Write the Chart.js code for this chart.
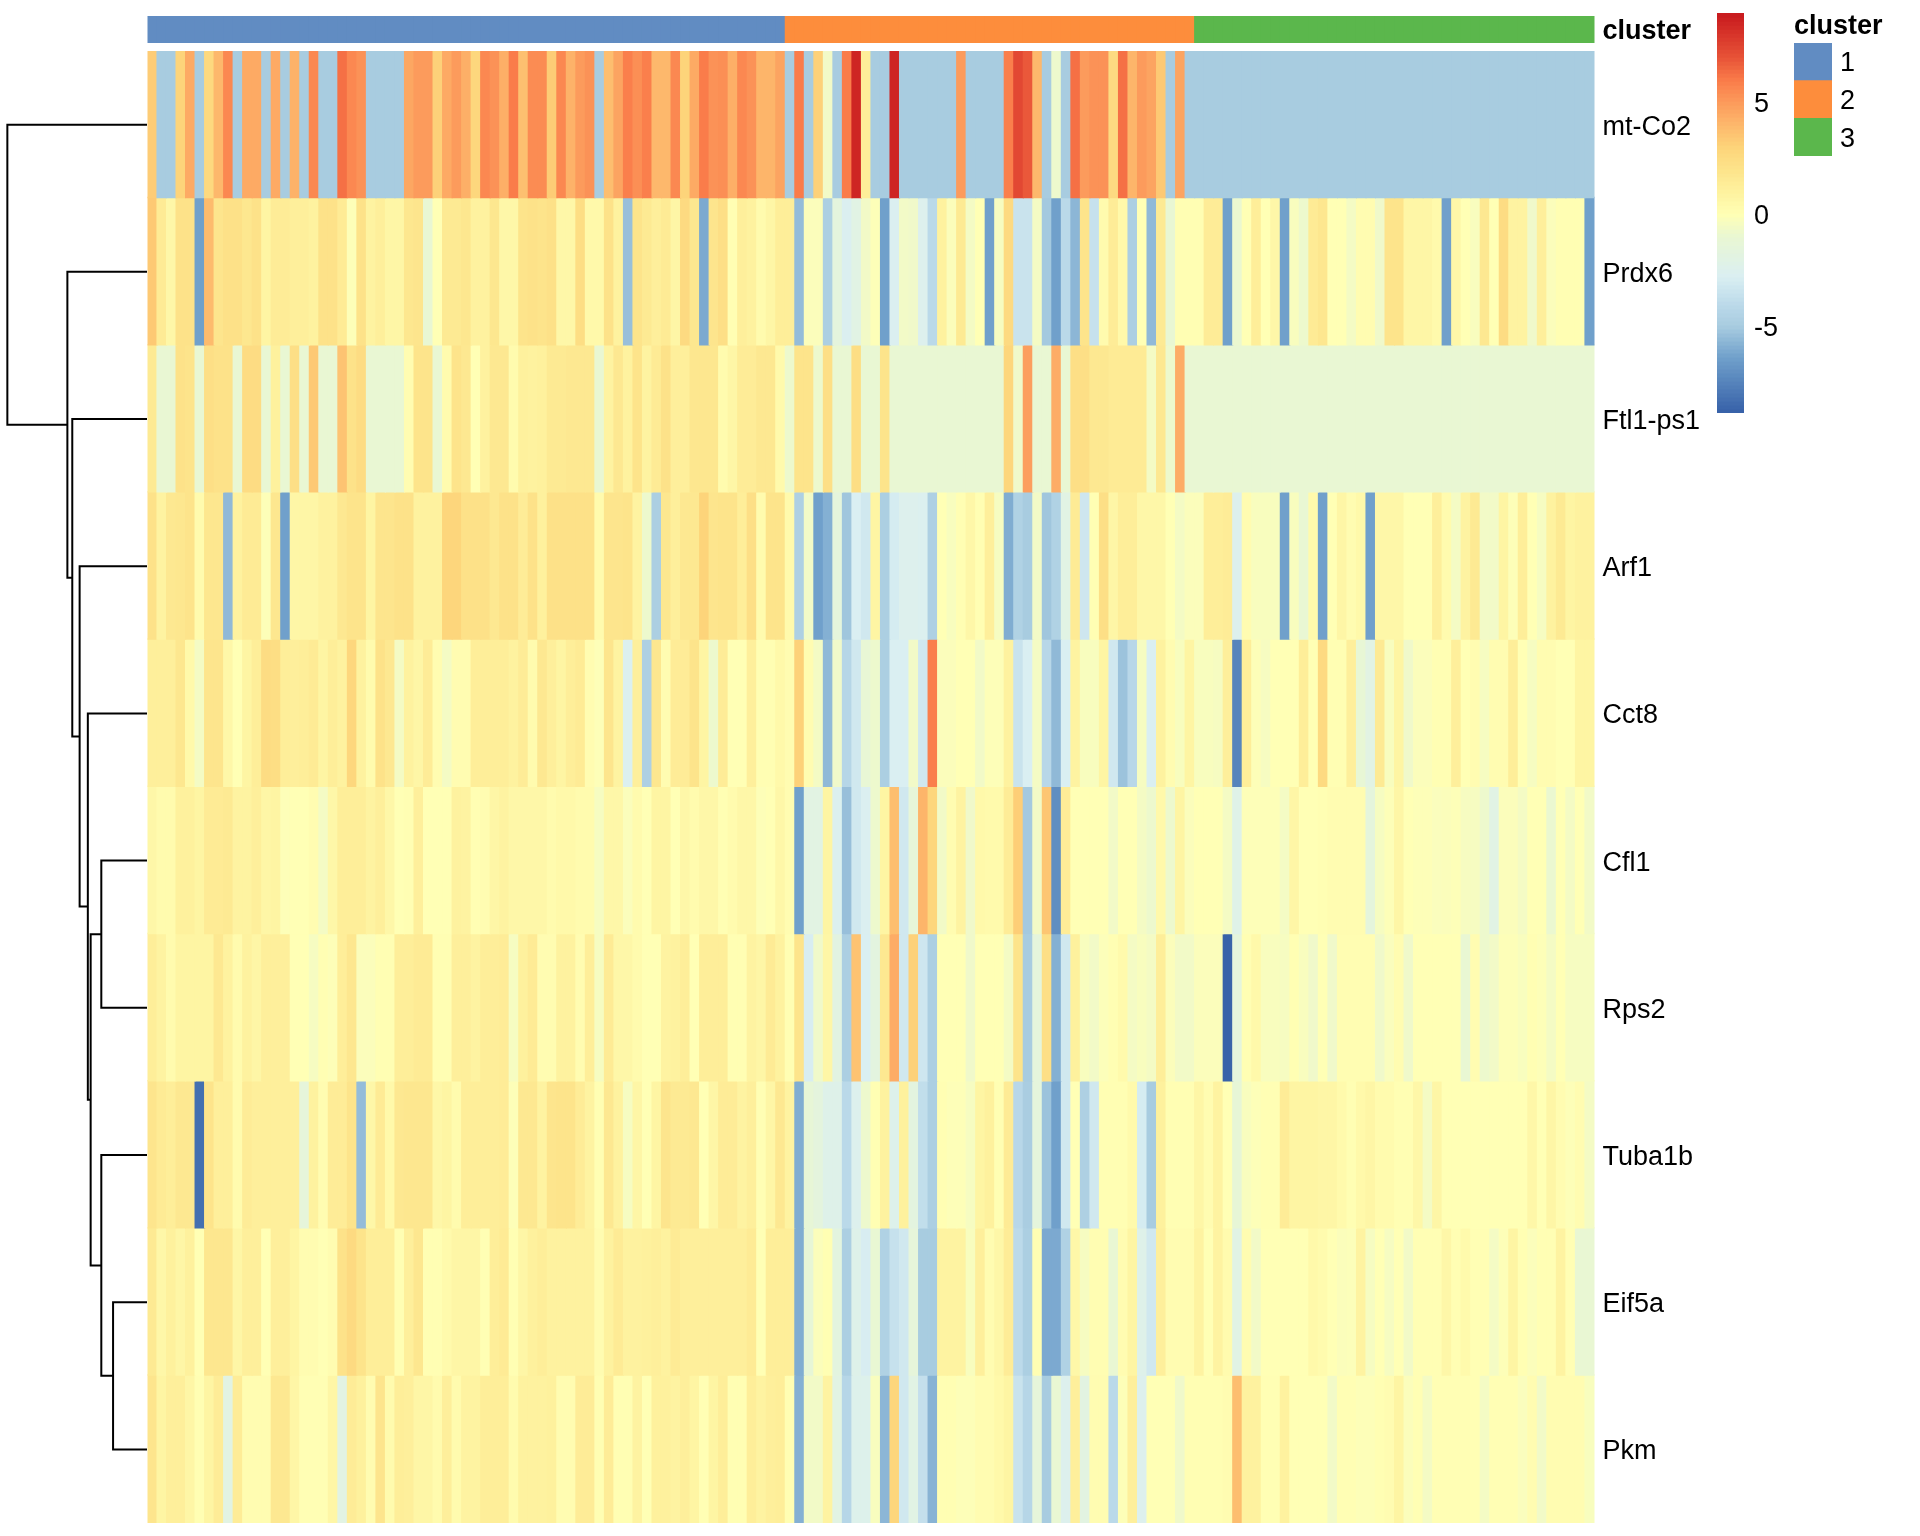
<!DOCTYPE html>
<html>
<head>
<meta charset="utf-8">
<title>cluster heatmap</title>
<script src="https://cdn.jsdelivr.net/npm/chart.js@4"></script>
<style>
    html, body { margin: 0; padding: 0; background: #fff; }
    #page { position: relative; width: 1920px; height: 1536px; overflow: hidden; }
    #page div { position: absolute; }
</style>
</head>
<body>
<div id="page">
    <div style="left:0;top:0;width:1920px;height:1536px"><canvas id="heatChart"></canvas></div>
    <div style="left:0;top:16px;width:147px;height:1507px"><canvas id="dendroChart"></canvas></div>
    <div style="left:1717px;top:13px;width:110px;height:400px"><canvas id="scaleChart"></canvas></div>
    <div style="left:1794px;top:0;width:126px;height:170px"><canvas id="clusterChart"></canvas></div>
</div>
<script>
// Data
const genes = ['mt-Co2', 'Prdx6', 'Ftl1-ps1', 'Arf1', 'Cct8', 'Cfl1', 'Rps2', 'Tuba1b', 'Eif5a', 'Pkm'];
const clusterNames = ['1', '2', '3'];
const clusterSizes = [67, 43, 42];
const clusterColors = ['#618CC2', '#FD8D3C', '#5BB74C'];
const scaleTicks = [5, 0, -5];

const mtCo2 = [
    3.3,-5,-5,3,4.5,-5,2.7,4,5.6,-5,
    4.5,4.5,-5,4.5,-5,4.2,-5,5.6,-5,-5,
    6.3,5.6,5.3,-5,-5,-5,-5,4.6,5,5,
    3.1,4.5,5,4.3,2.8,5.6,5.3,4.3,6,3.7,
    5.5,5.5,3.3,5.6,4.2,5,5.3,-5,3.8,4.7,
    5.9,5.4,5.9,4,4,5.6,3,4.5,6,5.3,
    5.4,4.3,5.6,5.3,4.1,4.1,4.7,-5,6,-5,
    3.1,-0.6,-5,6,8.6,1.3,-5,-5,8.6,-5,
    -5,-5,-5,-5,-5,5,-5,-5,-5,-5,
    5.9,7.4,6.9,4,-5,-0.8,-5,6.3,5,5.3,
    5.3,2.6,6.3,4.1,5,4.7,3.4,-5,4.7,-5,
    -5,-5,-5,-5,-5,-5,-5,-5,-5,-5,
    -5,-5,-5,-5,-5,-5,-5,-5,-5,-5,
    -5,-5,-5,-5,-5,-5,-5,-5,-5,-5,
    -5,-5,-5,-5,-5,-5,-5,-5,-5,-5,
    -5,-5
];
const prdx6 = [
    3.4,1.5,0.6,2.1,2.1,-6.4,3.9,1.9,2.2,2.2,
    1.8,2.1,0.8,1.4,1.4,1.2,1.2,1,2.1,2.1,
    1.5,-0.1,2.1,0.9,1.2,0.7,0.7,1.8,1.9,-1,
    0,1.6,1.6,1.8,1,1,1.8,0.6,0.6,2,
    2.1,2,2.2,0.6,0.6,2.4,0.5,0.5,2.1,1,
    -5.4,2,1.6,1.2,1.5,0.7,2.6,1.8,-6.1,1.9,
    2.3,0.1,1.2,1,0.3,0.7,1.3,1.3,-5.5,-0.2,
    -0.2,-4.8,-1.6,-2.7,-2,-0.6,-0.1,-6.4,-2.7,-0.6,
    -0.7,-2.5,-4.1,1,-0.2,1.6,-0.5,0,-6.4,-0.4,
    2.6,-3.5,-3.5,-0.5,-5.1,-6.4,-4.1,-5.7,2,-3.6,
    0.3,1.4,0.5,-4.8,0,-5.6,1.6,-1,0.1,0.1,
    0.1,1.4,1.4,-6.4,-0.9,0,1.3,0,0.6,-6.4,
    -0.3,-0.8,1.5,1.8,0,0,-0.5,0.2,0.2,-0.7,
    2,2,0.7,0.7,0.7,0.4,-6.4,0.6,0,-0.3,
    1.7,0,2.5,0.9,0.9,-0.7,1.2,-0.2,0.1,0.1,
    0.1,-6.4
];
const ftl1 = [
    1.6,-1,-1,2.1,2,-1,2.3,2.1,2.1,-1,
    2.5,2.5,-1,1.1,-1,2.3,-1,3.4,-1,-1,
    3.6,2.1,2.5,-1,-1,-1,-1,0.2,2,2,
    -1,0.3,2,1.7,0,1,1.7,1.7,0.3,1.1,
    1,1.1,1.6,1.6,1.7,1.7,1.7,-1,0.9,1.7,
    1,2,0.9,1.5,2.1,1.2,1.2,1.8,1.8,1.8,
    0.3,0.7,1.4,1.4,1.7,1.7,0.4,-0.8,2,2,
    -0.8,2.3,-1,-1,2.4,-1,-1,2,-1,-1,
    -1,-1,-1,-1,-1,-1,-1,-1,-1,-1,
    2.9,-0.7,4.9,-1,-1,4.4,-1,2.3,2.3,1.7,
    1.7,1.5,1.5,1.5,1.5,-0.5,1.7,-0.8,4.4,-1,
    -1,-1,-1,-1,-1,-1,-1,-1,-1,-1,
    -1,-1,-1,-1,-1,-1,-1,-1,-1,-1,
    -1,-1,-1,-1,-1,-1,-1,-1,-1,-1,
    -1,-1,-1,-1,-1,-1,-1,-1,-1,-1,
    -1,-1
];
const arf1 = [
    2.1,0.9,1.7,1.8,2,0.3,1.8,1.8,-5.6,1,
    1.5,1.5,-0.1,1.8,-6.4,0.7,0.7,0.7,1,1,
    1.7,2,2,0.8,1.9,1.9,2.1,2.1,1,1,
    1,2.9,2.9,2.2,2.2,2.2,1.7,2.1,2.1,1.4,
    2.1,1.1,2.2,2.2,2.2,2.2,2.2,0.3,1.9,1.9,
    2,0.9,-0.8,-4.8,1.8,1.2,1.7,1.7,3,1.9,
    2,2,1.3,2.3,0.3,2,2,0.4,-4.7,-0.6,
    -6.4,-5.9,-1.5,-5.2,-2.8,-3.2,0.8,-4.8,-3,-2.5,
    -2.5,-2.6,-4.7,0,-0.3,0.1,0.6,0.1,1.2,-0.4,
    -6,-4.6,-5,-0.6,-5.2,-4.6,-2,1.5,-3.3,0.1,
    2.3,0.7,1.3,1.3,0.6,0.6,0.6,0,-0.5,-0.2,
    -0.2,1.3,1.3,1.4,-2.5,0.2,-0.3,-0.3,-0.3,-6.4,
    -0.3,-1,0.4,-6.4,0,0.7,0.2,0.5,-6.4,0.6,
    0.6,0.6,0,0,0,1.2,0.3,-0.5,0.9,1.6,
    -0.6,-0.6,0.8,-0.1,1.3,0,-0.4,1,1.6,0.8,
    1,1
];
const cct8 = [
    1.2,1.2,1.2,1.8,0.5,-0.5,1.9,1.9,0.6,0,
    0.8,1.3,2.5,2.4,1.3,1.2,1.3,1.5,0.8,1.3,
    1,2.8,1,0.3,2.1,1.7,-0.5,1,0.7,1.4,
    0.2,-0.5,0.2,0.2,1.3,1.3,1.3,1.3,1,1.4,
    0.3,1.7,1.2,0.8,1.3,1.5,0.2,-0.1,1.9,0.9,
    -2.6,1.2,-4.7,1.8,0.2,1.4,1.4,2,0.8,-0.8,
    1.4,0,0,1.2,0.1,0.1,0.5,0.2,3.1,0.2,
    -0.5,-5.6,-0.7,-4.3,-3.2,-1.1,-0.8,-4.8,-2.8,-2.8,
    -0.6,-3.2,5.9,-0.2,-0.2,0,0,-0.6,-0.1,-0.1,
    1,-3.5,-2.8,-0.5,-4.2,-5.6,-2.8,0.9,-0.3,-0.3,
    0.8,-3.2,-5.3,-4.2,-0.4,-2.8,1,0.2,-0.3,0.8,
    -0.3,-0.3,-0.4,1.2,-7.5,1.3,-0.1,-0.4,0,0,
    0,1.3,0,2.6,0.1,0.1,1.2,-1.1,-1.9,1.6,
    -0.3,0.8,-0.7,-0.2,-0.2,0.1,0.1,1.2,0,0.2,
    -0.4,0.2,0.2,1.3,0,-0.4,0.2,0.2,0,0,
    0.8,0.8
];
const cfl1 = [
    0.6,0.3,0.3,1.1,1.1,0.8,1.5,1.5,1.6,0.9,
    0.9,1.2,0.7,0.8,-0.1,0,0,0.2,-0.5,0.6,
    1.3,1.3,1.3,0.9,1.2,0.6,0,0.1,1.2,0,
    0,0,1,0.9,0.1,0.2,0.7,0.9,0.6,0.6,
    0.6,0.6,0.3,0.5,0.5,0.3,0.3,-0.4,0.6,0.6,
    -0.2,0.3,0,0.8,0.8,0,0.6,0.3,0.6,0.6,
    0.1,0.3,0.6,0.6,-0.1,0,0.6,0.2,-6.4,-1.9,
    -1.9,0.8,-2.6,-5.4,-3.2,-2.7,-0.8,0.8,3.8,-3.2,
    -1.3,4.1,2.9,-0.6,0.2,0.9,-0.7,0.5,0.4,0.4,
    1.4,3.2,-5.1,-0.6,3.5,-7.1,1.4,0,0,0,
    0,-0.6,0,0,-0.5,-0.8,0.5,-0.8,0.8,-0.2,
    0,0,0,-0.5,-2.2,-0.1,-0.1,-0.1,-0.1,-0.5,
    0.7,0,0,0.1,0.2,0.2,0.2,0.2,-1.5,-0.4,
    -0.1,0.7,0,-0.1,-0.1,-0.25,-0.2,-0.1,-0.4,-0.4,
    -0.8,-2,-0.2,-0.2,-0.5,0,0,-0.9,0,-0.5,
    0,-0.6
];
const rps2 = [
    1.3,0.9,0.3,0.8,0.8,0.8,0.8,1.7,1,0.3,
    1,0.7,1.2,1.2,1.2,0,0,-0.4,0.1,-0.1,
    1.3,1.8,-0.2,-0.2,0.1,0.1,1.3,1.3,1.5,1.5,
    0.1,0.1,1.2,1.2,0.9,1.3,1.3,1.4,-0.4,1.1,
    1.5,0.2,0.2,1,1,0.2,1.3,-0.4,1.5,0.6,
    0.6,0.3,0,0,0.9,1,1.3,0,1.3,1.3,
    1.3,0.1,0.1,0.9,0.7,1.5,1,0.1,2,-2.9,
    -0.7,0.7,-1.8,-4.8,3.6,-2.8,-1.7,1.7,4.4,-3.2,
    3.1,-3.3,-4.8,0,0,0,-0.7,0,0,0,
    -0.5,2,-5,-1.5,2.3,-5.9,-3.2,1.1,-0.3,-0.6,
    -0.15,0.1,0.4,-0.5,-0.3,-0.5,1.3,-0.2,-0.6,-0.6,
    -0.2,-0.2,-0.2,-8.8,-1.5,0.1,0.5,-0.3,-0.3,-0.4,
    0.1,-0.3,-0.7,0,-0.7,0.15,0.15,0.15,0.15,-0.7,
    -0.25,0.2,-0.7,0,0,0,0,0,-1,0.2,
    -0.8,-0.6,-0.1,-0.1,-0.3,0.1,-0.1,-0.5,0,-0.4,
    -0.4,-0.4
];
const tuba1b = [
    1.9,1.5,1.3,1.7,1.7,-8.3,2,1.2,1.2,0.3,
    1.4,1.2,1.2,1.2,1.2,1.2,-1.4,1,0.2,1.4,
    1.4,2,-5.5,0.6,1.5,0.5,1.7,1.8,1.8,1.8,
    0.6,0.8,0.3,1.3,1.3,1.3,1.3,1.4,-0.1,1.7,
    1.7,0.9,1.9,2,2,1.4,0.9,0.1,1.7,1,
    -0.4,0.7,0,0.8,1.9,1.6,1.6,1.7,0,0.7,
    1.4,1.4,0.9,1.2,0.05,0.7,1.7,0.9,-6,-1.2,
    -1.6,-2.3,-2.3,-4.1,-2.5,-0.8,0.1,1,-2.4,1.1,
    -1.7,-3.8,-4.8,0.1,-0.1,-0.1,-0.4,0.8,1.1,0.1,
    1.5,-4.2,-4.9,-1.5,-5.3,-6.4,-3.2,0,-4.7,-3.2,
    0.1,0.1,0.1,0.4,-3,-5,1.1,0.1,0.1,0.1,
    0.7,0.2,0.9,0,-1.2,-0.3,-0.1,0.05,0.05,1.4,
    0.8,0.8,0.8,0.7,0.7,0.4,0.1,0.5,0.7,0.3,
    0.3,0.1,0.1,0.6,-0.5,0.7,0,0,0,0,
    0,0,0,0,0,0.6,0,0.7,0.2,-0.1,
    0.2,-0.5
];
const eif5a = [
    1.6,0.6,1.1,0.7,1.1,0,1.8,1.8,1.8,0.7,
    1.2,1.2,0,1.2,1.2,0.8,0.2,0.2,0,0.2,
    2.1,2.6,2,1.3,1.3,1.3,0.1,1.2,1.8,0.1,
    0.1,0.4,0.7,0.7,0.7,0.05,1.3,1.5,0.1,0.7,
    1.1,1.3,1,1,1,1,1,0.2,1,1.5,
    1,1,1.1,1.2,1,1.5,1.2,1.2,1.2,1.2,
    1.2,1.2,1.2,1.5,0,1.3,1.3,1.3,-6,-1.2,
    -0.2,0.1,-1.7,-4.8,-2.3,-2.9,-1,-4.6,-3.6,-3.2,
    -1.4,-5,-5,0.9,0.9,0.9,-0.3,1.2,0.2,0.6,
    1.4,-4,-4.8,0.1,-6.1,-6.1,-4.6,0.6,-0.4,0.15,
    0.15,-1,0.2,0.8,-2.3,-3.2,1.2,0.2,0.2,0.2,
    0.9,0,0.9,0.3,-2,0.2,-0.6,0,0,0,
    0,0,0.5,0.3,0,-0.2,-0.15,0.9,-0.4,0,
    -0.4,0,-0.6,0.05,0.05,0.05,0.6,0.1,0.4,0.05,
    0.05,-0.5,-0.1,0.8,0.1,-0.2,0.05,0.05,0.9,0.05,
    -1,-1
];
const pkm = [
    1.9,0.8,1.2,1.2,0.7,0.1,0.8,1.4,-1.9,1.4,
    0.2,0.2,0.2,1.7,1.7,0.7,0.05,0.05,0.05,0.7,
    -1.9,1.4,1.1,0.2,1.9,0.3,1.3,1.2,0.7,0.7,
    0.3,1.2,0.3,0.9,0.9,1.3,1.3,1.3,0.3,1,
    1,1,1.1,0.2,0.2,1.4,1.4,0.1,1.4,0.1,
    0.1,0.9,0,1.1,1.1,0.9,1.2,0.8,0.05,0.8,
    1.3,0.1,0.1,1.3,0.9,1.2,1.3,0.1,-5.9,-0.6,
    -0.6,0.9,-1.9,-4.3,-2.4,-2.4,-0.3,-5.7,2.9,-3.2,
    -2,-3.7,-5.8,0.1,0.1,-0.1,-0.1,0.2,0.2,0.5,
    0.8,-3.5,-4.3,-1.4,-5,-1,-2.5,1.2,-1.8,0.2,
    0.2,-4.1,-0.1,1.2,-2.5,0,0,0,-0.7,0.1,
    0.1,0.1,0.1,0.2,3.8,1,1,0.05,0.05,1,
    0,0,0,0,-0.6,0.05,0.05,-0.1,-0.1,0.1,
    0.2,0.8,-0.2,0.05,-0.5,0.05,0.05,0.05,0.05,0.05,
    -0.5,0.05,0.05,0.05,-0.25,0.2,-0.6,0.2,0.2,0.2,
    0.2,-0.3
];
const rows = [mtCo2, prdx6, ftl1, arf1, cct8, cfl1, rps2, tuba1b, eif5a, pkm];

// Row dendrogram: ids 0-9 are the rows, 10 and up are the merges in order
const mergeLeft = [8, 5, 7, 11, 4, 3, 2, 1, 0];
const mergeRight = [9, 6, 10, 12, 13, 14, 15, 16, 17];
const mergeHeight = [27.7, 37.3, 37.3, 46, 48.3, 55, 61, 65, 114];

// Colour scale
const scaleMin = -8.9;
const scaleMax = 9;
const stopValues = [-8.9, -6.4, -5, -4, -2.8, -1, 0, 1, 2, 3, 4, 5, 6, 7, 9];
const stopColors = ['#3660A8', '#70A0CB', '#A8CCE0', '#BCDAEA', '#DAEFF2', '#E9F7D3', '#FFFFB5', '#FEF29F',
    '#FDE48B', '#FDD47A', '#FDB86C', '#FC9B5C', '#FA7C4A', '#E85438', '#C8191E'];

function valueColor(v) {
    let i = 0;
    while (i < stopValues.length - 2 && v > stopValues[i + 1]) i++;
    const t = Math.min(1, Math.max(0, (v - stopValues[i]) / (stopValues[i + 1] - stopValues[i])));
    const a = parseInt(stopColors[i].slice(1), 16);
    const b = parseInt(stopColors[i + 1].slice(1), 16);
    const mix = s => Math.round(((a >> s) & 255) + (((b >> s) & 255) - ((a >> s) & 255)) * t);
    return `rgb(${mix(16)},${mix(8)},${mix(0)})`;
}

Chart.defaults.font.family = '"Liberation Sans", Arial, sans-serif';
Chart.defaults.color = '#000';
Chart.defaults.animation = false;
Chart.defaults.responsive = false;
Chart.defaults.devicePixelRatio = 1;
Chart.defaults.events = [];
Chart.defaults.plugins.legend.display = false;
Chart.defaults.plugins.tooltip.enabled = false;

const labelFont = 27;
const barTop = -0.238;
const barBottom = -0.054;
const columns = mtCo2.map((v, i) => i + 1);

function setSize(id, w, h) {
    const canvas = document.getElementById(id);
    canvas.width = w;
    canvas.height = h;
    canvas.style.width = w + 'px';
    canvas.style.height = h + 'px';
    return canvas;
}

// tick labels should not push the plot area in
function fixAxis(scale, width) {
    scale.width = width;
    scale.paddingTop = 0;
    scale.paddingBottom = 0;
}

function clusterColumnColors() {
    const colors = [];
    clusterSizes.forEach((n, c) => {
        for (let i = 0; i < n; i++) colors.push(clusterColors[c]);
    });
    return colors;
}

function setupHeatChart() {
    // rows overlap a little upwards and the upper row paints last, so no seams show
    const datasets = rows.map((values, r) => ({
        label: genes[r],
        data: values.map(() => [Math.max(0, r - 0.01), r + 1]),
        backgroundColor: values.map(valueColor),
        grouped: false,
        barPercentage: 1.12,
        categoryPercentage: 1,
        borderWidth: 0
    }));
    datasets.push({
        label: 'cluster',
        data: columns.map(() => [barTop, barBottom]),
        backgroundColor: clusterColumnColors(),
        grouped: false,
        barPercentage: 1.12,
        categoryPercentage: 1,
        borderWidth: 0
    });

    new Chart(setSize('heatChart', 1920, 1536), {
        type: 'bar',
        data: { labels: columns, datasets: datasets },
        options: {
            layout: { padding: { left: 147.5, top: 16, bottom: 13, right: 0 } },
            scales: {
                x: { display: false },
                y: {
                    position: 'right',
                    reverse: true,
                    min: barTop,
                    max: 10,
                    grid: { display: false, drawTicks: false },
                    border: { display: false },
                    afterFit: scale => fixAxis(scale, 325.5),
                    afterBuildTicks: scale => {
                        scale.ticks = [{ value: (barTop + barBottom) / 2 }].concat(genes.map((g, i) => ({ value: i + 0.5 })));
                    },
                    ticks: {
                        autoSkip: false,
                        padding: 8,
                        labelOffset: 2.5,
                        font: ctx => ({ size: labelFont, weight: ctx.index === 0 ? 'bold' : 'normal' }),
                        callback: (value, index) => index === 0 ? 'cluster' : genes[index - 1]
                    }
                }
            }
        }
    });
}

function setupDendroChart() {
    const nodeY = genes.map((g, i) => i + 0.5);
    const nodeH = genes.map(() => 0);
    const datasets = mergeLeft.map((left, m) => {
        const right = mergeRight[m];
        const h = mergeHeight[m];
        nodeY.push((nodeY[left] + nodeY[right]) / 2);
        nodeH.push(h);
        return {
            data: [
                { x: nodeH[left], y: nodeY[left] },
                { x: h, y: nodeY[left] },
                { x: h, y: nodeY[right] },
                { x: nodeH[right], y: nodeY[right] }
            ],
            showLine: true,
            borderColor: '#000',
            borderWidth: 2,
            pointRadius: 0,
            borderJoinStyle: 'miter',
            borderCapStyle: 'butt',
            tension: 0
        };
    });

    new Chart(setSize('dendroChart', 147, 1507), {
        type: 'scatter',
        data: { datasets: datasets },
        options: {
            layout: { padding: 0 },
            scales: {
                x: { display: false, reverse: true, min: 0, max: 120 },
                y: { display: false, reverse: true, min: barTop, max: 10 }
            }
        }
    });
}

function setupScaleChart() {
    const levels = [];
    for (let i = 0; i < 100; i++) levels.push(scaleMin + (scaleMax - scaleMin) * (i + 0.5) / 100);

    new Chart(setSize('scaleChart', 110, 400), {
        type: 'bar',
        data: {
            datasets: [{
                data: levels.map(v => ({ x: 1, y: v })),
                backgroundColor: levels.map(valueColor),
                barPercentage: 1.3,
                categoryPercentage: 1,
                borderWidth: 0
            }]
        },
        options: {
            indexAxis: 'y',
            layout: { padding: 0 },
            scales: {
                x: { display: false, min: 0, max: 1 },
                y: {
                    type: 'linear',
                    position: 'right',
                    offset: false,
                    min: scaleMin,
                    max: scaleMax,
                    grid: { display: false, drawTicks: false },
                    border: { display: false },
                    afterFit: scale => fixAxis(scale, 83),
                    afterBuildTicks: scale => { scale.ticks = scaleTicks.map(v => ({ value: v })); },
                    ticks: { autoSkip: false, padding: 10, labelOffset: 2.5, font: { size: labelFont }, callback: value => String(value) }
                }
            }
        }
    });
}

function setupClusterChart() {
    new Chart(setSize('clusterChart', 126, 170), {
        type: 'bar',
        data: {
            labels: clusterNames,
            datasets: [{
                data: clusterNames.map(() => 1),
                backgroundColor: clusterColors,
                barPercentage: 1,
                categoryPercentage: 1,
                borderWidth: 0
            }]
        },
        options: {
            indexAxis: 'y',
            layout: { padding: { bottom: 14 } },
            plugins: {
                title: {
                    display: true,
                    text: 'cluster',
                    align: 'start',
                    font: { size: labelFont, weight: 'bold' },
                    padding: { top: 10.5, bottom: 0 }
                }
            },
            scales: {
                x: { display: false, min: 0, max: 1 },
                y: {
                    position: 'right',
                    grid: { display: false, drawTicks: false },
                    border: { display: false },
                    afterFit: scale => fixAxis(scale, 88),
                    ticks: { padding: 8, labelOffset: 2, font: { size: labelFont } }
                }
            }
        }
    });
}

setupHeatChart();
setupDendroChart();
setupScaleChart();
setupClusterChart();
</script>
</body>
</html>
